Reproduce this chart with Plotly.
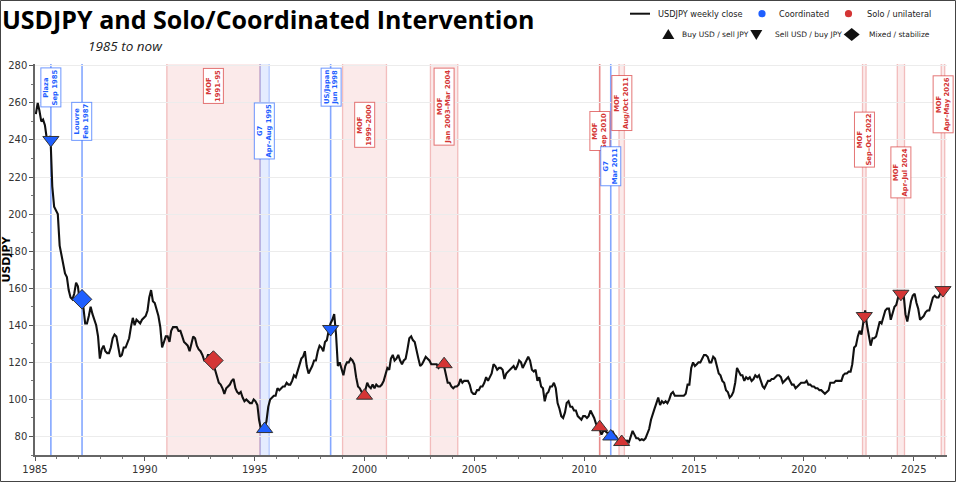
import pandas as pd
import plotly.graph_objects as go

# ---------------- data ----------------
usdjpy_first_month = "1985-01-15"
usdjpy_monthly = [
    # 1985
    254, 260, 256, 250, 251, 248, 241, 241, 242, 215, 204, 202,
    # 1986
    200, 183, 178, 172, 168, 166, 159, 155, 154, 157, 163, 161,
    # 1987
    153, 153, 150, 141, 141, 145, 150, 146, 143, 140, 134, 122,
    # 1988
    127, 129, 126, 125, 125, 128, 133, 135, 134, 129, 123, 124,
    # 1989
    128, 128, 131, 133, 139, 144, 140, 143, 142, 141, 143, 144,
    # 1990
    145, 148, 155, 159, 153, 152, 148, 145, 139, 128, 131, 134,
    # 1991
    134, 131, 137, 139, 139, 139, 137, 137, 134, 131, 130, 129,
    # 1992
    126, 130, 134, 133, 129, 127, 126, 124, 121, 121, 124, 124,
    # 1993
    124, 119, 116, 112, 109, 108, 106, 103, 106, 107, 108, 110,
    # 1994
    111, 106, 104, 103, 104, 101, 99, 100, 99, 98, 98, 100,
    # 1995
    99, 97, 89, 84, 84, 85, 88, 96, 100, 101, 102, 102,
    # 1996
    106, 105, 106, 107, 107, 109, 108, 108, 110, 113, 112, 115,
    # 1997
    118, 122, 123, 126, 118, 114, 116, 118, 121, 121, 126, 129,
    # 1998
    128, 126, 131, 132, 137, 141, 143, 146, 135, 118, 120, 116,
    # 1999
    113, 118, 120, 120, 122, 121, 119, 112, 107, 106, 104, 102,
    # 2000
    105, 109, 107, 106, 108, 106, 108, 107, 107, 108, 110, 113,
    # 2001
    117, 116, 122, 124, 121, 122, 124, 121, 119, 121, 122, 127,
    # 2002
    133, 134, 132, 131, 126, 122, 118, 119, 121, 123, 122, 121,
    # 2003
    119, 119, 119, 119, 117, 118, 119, 118, 114, 109, 109, 107,
    # 2004
    106, 107, 107, 108, 111, 109, 110, 110, 110, 108, 104, 103,
    # 2005
    103, 105, 105, 107, 107, 109, 112, 110, 112, 114, 119, 118,
    # 2006
    116, 117, 117, 116, 111, 114, 115, 116, 117, 118, 116, 118,
    # 2007
    121, 120, 117, 119, 121, 123, 121, 116, 115, 116, 110, 112,
    # 2008
    107, 106, 99, 103, 104, 107, 107, 109, 106, 98, 95, 91,
    # 2009
    90, 93, 98, 99, 96, 96, 94, 94, 91, 90, 89, 91,
    # 2010
    91, 90, 91, 94, 92, 90, 87, 85, 84, 81, 83, 83,
    # 2011
    82, 82, 81, 83, 81, 80, 78, 77, 77, 77, 77.5, 77.8,
    # 2012
    77, 80, 83, 81, 79, 79, 78, 78.5, 78, 79, 82, 84,
    # 2013
    89, 93, 95, 98, 101, 97, 99, 98, 99, 98, 100, 103,
    # 2014
    104, 102, 102, 102, 102, 102, 102, 103, 108, 108, 117, 120,
    # 2015
    118, 119, 120, 120, 122, 124, 124, 123, 120, 120, 123, 122,
    # 2016
    118, 114, 113, 110, 109, 105, 104, 101, 102, 104, 109, 117,
    # 2017
    115, 113, 113, 110, 112, 111, 112, 110, 111, 113, 112, 113,
    # 2018
    110, 107, 106, 108, 110, 110, 111, 111, 112, 113, 113, 112,
    # 2019
    109, 110, 111, 112, 110, 108, 108, 106, 107, 108, 109, 109,
    # 2020
    109, 110, 108, 108, 107, 107, 106, 106, 105, 105, 104, 103,
    # 2021
    104, 105, 109, 109, 109, 110, 110, 110, 110, 113, 114, 114,
    # 2022
    115, 115, 119, 128, 129, 134, 137, 135, 143, 148, 140, 135,
    # 2023
    129, 133, 133, 134, 138, 142, 141, 145, 148, 149, 149, 143,
    # 2024
    146, 150, 151, 155, 156, 158, 157, 146, 142, 148, 153, 156,
    # 2025
    157, 152, 149, 143, 144, 145, 147, 148, 148, 151, 155, 156,
    # 2026
    155, 155, 157, 159, 158, 159,
]

event_group = ["Plaza", "Louvre", "MOF", "G7", "US/Japan", "MOF", "MOF",
               "MOF", "G7", "MOF", "MOF", "MOF", "MOF"]
event_when = ["Sep 1985", "Feb 1987", "1991–95", "Apr–Aug 1995", "Jun 1998",
              "1999–2000", "Jan 2003–Mar 2004", "Sep 2010", "Mar 2011",
              "Aug/Oct 2011", "Sep–Oct 2022", "Apr–Jul 2024", "Apr–May 2026"]
event_start = ["1985-09-22", "1987-02-22", "1991-01-01", "1995-04-01", "1998-06-17",
               "1999-01-01", "2003-01-01", "2010-09-15", "2011-03-18",
               "2011-08-01", "2022-09-01", "2024-04-01", "2026-04-01"]
event_end = ["1985-09-22", "1987-02-22", "1995-03-31", "1995-08-31", "1998-06-17",
             "2000-12-31", "2004-03-31", "2010-09-15", "2011-03-18",
             "2011-10-31", "2022-10-31", "2024-07-31", "2026-05-31"]
event_kind = ["coord", "coord", "solo", "coord", "coord", "solo", "solo",
              "solo", "coord", "solo", "solo", "solo", "solo"]
event_action = ["sell", "mixed", "mixed", "buy", "sell", "buy", "buy",
                "buy", "buy", "buy", "sell", "sell", "sell"]
event_rate = [240, 154, 121, 84, 138, 102, 119, 85, 80, 77, 145, 157, 159]

legend_labels_row1 = ["USDJPY weekly close", "Coordinated", "Solo / unilateral"]
legend_labels_row2 = ["Buy USD / sell JPY", "Sell USD / buy JPY", "Mixed / stabilize"]

# ---------------- styling / layout ----------------
W, H = 956, 482
ML, MR, MT, MB = 35, 9, 64, 27
PW, PH = W - ML - MR, H - MT - MB

BLUE = "#1f5fff"
RED = "#d43535"
KIND_RGB = {"coord": "31,95,255", "solo": "214,45,45"}
KIND_COLOR = {"coord": BLUE, "solo": RED}
ACTION_SYMBOL = {"buy": "triangle-up", "sell": "triangle-down", "mixed": "diamond"}
ACTION_SIZE = {"buy": 14, "sell": 14, "mixed": 15}
LABEL_TOP = [0.991, 0.902, 0.991, 0.902, 0.991, 0.902, 0.991,
             0.879, 0.789, 0.971, 0.879, 0.789, 0.971]


def px_x(p):
    return (p - ML) / PW


def px_y(p):
    return (H - MB - p) / PH


dates = pd.date_range("1985-01-01", periods=len(usdjpy_monthly), freq="MS") + pd.Timedelta(days=14)

fig = go.Figure()

shapes = []
annotations = []
mark_x = []
for i in range(len(event_group)):
    s = pd.Timestamp(event_start[i])
    e = pd.Timestamp(event_end[i])
    rgb = KIND_RGB[event_kind[i]]
    mid = s + (e - s) / 2
    mark_x.append(mid)
    if s == e:
        shapes.append(dict(type="line", xref="x", yref="paper", x0=s, x1=s, y0=0, y1=1,
                           line=dict(color=f"rgba({rgb},0.55)", width=1.6), layer="below"))
    else:
        alpha = 0.12 if event_kind[i] == "coord" else 0.10
        shapes.append(dict(type="rect", xref="x", yref="paper", x0=s, x1=e, y0=0, y1=1,
                           fillcolor=f"rgba({rgb},{alpha})", line=dict(width=0), layer="below"))
        for edge in (s, e):
            shapes.append(dict(type="line", xref="x", yref="paper", x0=edge, x1=edge, y0=0, y1=1,
                               line=dict(color=f"rgba({rgb},0.28)", width=1.3), layer="below"))
    annotations.append(dict(
        x=mid, xref="x", y=LABEL_TOP[i], yref="paper", xanchor="center", yanchor="top",
        text=f"<b>{event_group[i]}<br>{event_when[i]}</b>", textangle=-90, showarrow=False,
        font=dict(family="DejaVu Sans", size=6.8, color=KIND_COLOR[event_kind[i]]),
        bgcolor="white", bordercolor=f"rgba({rgb},0.65)", borderwidth=1, borderpad=1,
        align="center"))

# price line
fig.add_trace(go.Scatter(x=dates, y=usdjpy_monthly, mode="lines", name="USDJPY weekly close",
                         line=dict(color="#111111", width=2.1), showlegend=False))

# event markers
fig.add_trace(go.Scatter(
    x=mark_x, y=event_rate, mode="markers", showlegend=False, hoverinfo="skip",
    marker=dict(symbol=[ACTION_SYMBOL[a] for a in event_action],
                size=[ACTION_SIZE[a] for a in event_action],
                color=[KIND_COLOR[k] for k in event_kind], opacity=1,
                line=dict(color="#333333", width=1)), cliponaxis=False))

# ---------------- manual legend (pixel-placed) ----------------
LEG_FONT1 = dict(family="DejaVu Sans", size=8.2, color="#222222")
LEG_FONT2 = dict(family="DejaVu Sans", size=7.5, color="#222222")
row1_y, row2_y = 13.7, 34.5
row1_handle_x = [640, 762, 848.5]
row1_text_x = [656, 777, 865]
row2_handle_x = [668.3, 756.3, 851.7]
row2_text_x = [680, 773, 866.5]


def pix_shape(cx, cy, **kw):
    d = dict(xref="paper", yref="paper", xsizemode="pixel", ysizemode="pixel",
             xanchor=px_x(cx), yanchor=px_y(cy), layer="above")
    d.update(kw)
    return d


shapes.append(pix_shape(row1_handle_x[0], row1_y, type="line", x0=-10, x1=10, y0=0, y1=0,
                        line=dict(color="#111111", width=2)))
for cx, col in zip(row1_handle_x[1:], [BLUE, RED]):
    shapes.append(pix_shape(cx, row1_y, type="circle", x0=-3.6, x1=3.6, y0=-3.6, y1=3.6,
                            fillcolor=col, line=dict(width=0)))
tri_paths = ["M-6,-4.5 L6,-4.5 L0,5.5 Z", "M-6,4.5 L6,4.5 L0,-5.5 Z",
             "M0,-6.5 L8,0 L0,6.5 L-8,0 Z"]
for cx, p in zip(row2_handle_x, tri_paths):
    shapes.append(pix_shape(cx, row2_y, type="path", path=p, fillcolor="#111111",
                            line=dict(width=0)))
for tx, lab in zip(row1_text_x, legend_labels_row1):
    annotations.append(dict(text=lab, xref="paper", yref="paper", x=px_x(tx), y=px_y(row1_y),
                            xanchor="left", yanchor="middle", showarrow=False, font=LEG_FONT1))
for tx, lab in zip(row2_text_x, legend_labels_row2):
    annotations.append(dict(text=lab, xref="paper", yref="paper", x=px_x(tx), y=px_y(row2_y),
                            xanchor="left", yanchor="middle", showarrow=False, font=LEG_FONT2))

# figure frame
shapes.append(dict(type="rect", xref="paper", yref="paper",
                   x0=px_x(0.5), x1=px_x(W - 0.5), y0=px_y(H - 0.5), y1=px_y(0.5),
                   line=dict(color="#444444", width=1), fillcolor="rgba(0,0,0,0)", layer="above"))

annotations.append(dict(text="1985 to now", xref="paper", yref="paper", x=px_x(86), y=px_y(46),
                        xanchor="left", yanchor="middle", showarrow=False,
                        font=dict(family="Open Sans", size=13.5, color="#222222", style="italic")))

fig.update_layout(
    width=W, height=H,
    margin=dict(l=ML, r=MR, t=MT, b=MB, autoexpand=False),
    paper_bgcolor="white", plot_bgcolor="white",
    title=dict(text="<b>USDJPY and Solo/Coordinated Intervention</b>", xref="container", x=0.002,
               xanchor="left", yref="container", y=1 - 20 / H, yanchor="middle",
               font=dict(family="Open Sans", size=25, color="black")),
    font=dict(family="DejaVu Sans", size=10, color="#333333"),
    shapes=shapes, annotations=annotations,
    showlegend=False,
)

fig.update_xaxes(type="date", range=["1985-01-01", "2026-07-07"], tick0="1985-01-01", dtick="M60",
                 tickformat="%Y", ticks="outside", ticklen=4, tickcolor="#555555",
                 showline=True, linecolor="#666666", linewidth=1.5, showgrid=False, zeroline=False,
                 tickfont=dict(family="DejaVu Sans", size=10, color="#333333"),
                 minor=dict(dtick="M12", tick0="1985-01-01", ticks="outside", ticklen=2,
                            tickcolor="#777777", showgrid=False))
fig.update_yaxes(range=[70, 281], tick0=80, dtick=20, ticks="outside", ticklen=4, tickcolor="#555555",
                 showline=True, linecolor="#666666", linewidth=1.5, showgrid=True,
                 gridcolor="#ececec", gridwidth=1.2, zeroline=False,
                 tickfont=dict(family="DejaVu Sans", size=10, color="#333333"),
                 title=dict(text="<b>USDJPY</b>", font=dict(family="DejaVu Sans", size=11, color="black"),
                            standoff=2),
                 minor=dict(dtick=10, ticks="outside", ticklen=2, tickcolor="#777777", showgrid=False),
                 automargin=False)

fig.write_html("out.html", config={"displayModeBar": False},
               post_script="document.body.style.margin='0';")
